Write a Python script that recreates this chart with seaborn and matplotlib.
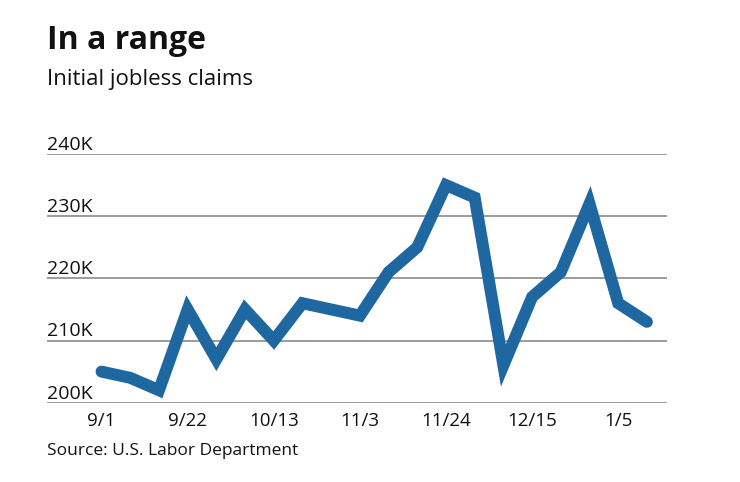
import matplotlib
matplotlib.use("Agg")
import matplotlib.pyplot as plt
import seaborn as sns
import pandas as pd

# weekly initial jobless claims, thousands
weeks = ["9/1", "9/8", "9/15", "9/22", "9/29", "10/6", "10/13", "10/20", "10/27",
         "11/3", "11/10", "11/17", "11/24", "12/1", "12/8", "12/15", "12/22",
         "12/29", "1/5", "1/12"]
claims = [205, 204, 202, 215, 207, 215, 210, 216, 215,
          214, 221, 225, 235, 233, 206, 217, 221, 232, 216, 213]
y_ticks = [200, 210, 220, 230, 240]
y_labels = ["200K", "210K", "220K", "230K", "240K"]

LINE = "#1f67a1"
GRID = "#8a8a8a"
FONT = "Open Sans"

df = pd.DataFrame({"week": range(len(weeks)), "claims": claims})

sns.set_theme(style="white")
plt.rcParams["font.family"] = [FONT, "DejaVu Sans"]

fig = plt.figure(figsize=(7.4, 4.82), dpi=100)
ax = fig.add_axes([47 / 740, 1 - 402.7 / 482, 620 / 740, 248.7 / 482])

sns.lineplot(data=df, x="week", y="claims", ax=ax, color=LINE, linewidth=8.6,
             solid_joinstyle="miter", solid_capstyle="round", clip_on=False)

ax.set_xlim(-1.9, 19.7)
ax.set_ylim(200, 240)
ax.set_yticks(y_ticks)
ax.set_yticklabels([])
ax.grid(axis="y", color=GRID, linewidth=1.2)
ax.grid(axis="x", visible=False)
ax.set_axisbelow(True)
for s in ax.spines.values():
    s.set_visible(False)

for v, lab in zip(y_ticks, y_labels):
    ax.annotate(lab, xy=(0, v), xycoords=ax.get_yaxis_transform(),
                xytext=(0, 3), textcoords="offset points",
                ha="left", va="baseline", fontsize=14, color="#111111")

xt = list(range(0, len(weeks), 3))
ax.set_xticks(xt)
ax.set_xticklabels([weeks[i] for i in xt], fontsize=13.5, color="#111111")
ax.tick_params(axis="x", length=0, pad=7)
ax.tick_params(axis="y", length=0)
ax.set_xlabel("")
ax.set_ylabel("")

fig.text(47 / 740, 1 - 49 / 482, "In a range", fontsize=23, fontweight="bold",
         ha="left", va="baseline", color="#111111")
fig.text(47 / 740, 1 - 85 / 482, "Initial jobless claims", fontsize=16,
         ha="left", va="baseline", color="#111111")
fig.text(47 / 740, 1 - 455.3 / 482, "Source: U.S. Labor Department", fontsize=12.5,
         ha="left", va="baseline", color="#111111")

fig.savefig("out.png", dpi=100)
